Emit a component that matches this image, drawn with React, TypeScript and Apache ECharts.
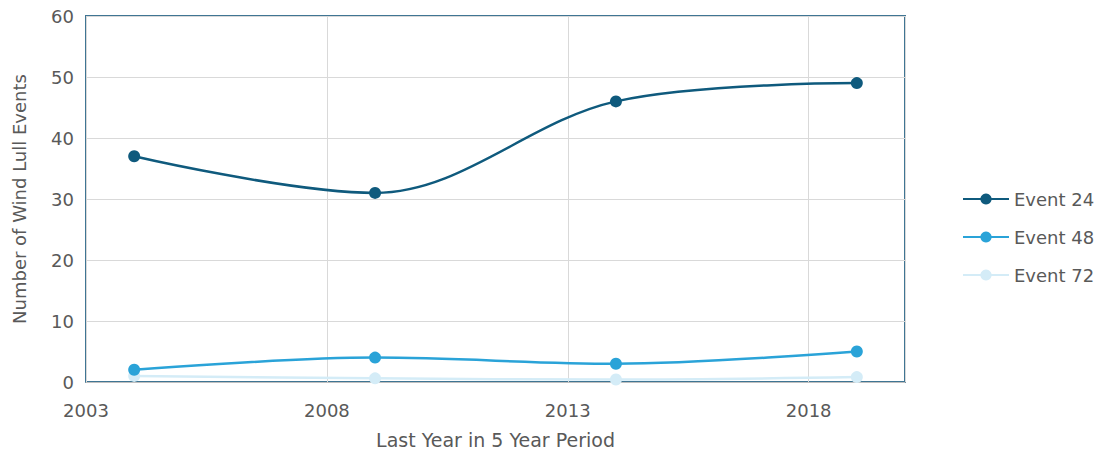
import React, { useEffect, useRef } from "react";
import * as echarts from "echarts";

const years = [2004, 2009, 2014, 2019];
const event24 = [37, 31, 46, 49];
const event48 = [2, 4, 3, 5];
const event72 = [1, 0.6, 0.4, 0.8];
const seriesNames = ["Event 24", "Event 48", "Event 72"];
const colors = ["#0f5a7d", "#2aa3d8", "#d4ecf7"];

export default function App() {
  const ref = useRef<HTMLDivElement>(null);
  useEffect(() => {
    if (!ref.current) return;
    const chart = echarts.init(ref.current, undefined, { renderer: "svg" });
    const font = "DejaVu Sans";
    const dataSets = [event24, event48, event72];
    chart.setOption({
      animation: false,
      textStyle: { fontFamily: font },
      grid: {
        left: 86,
        right: 194,
        top: 16,
        bottom: 71,
        containLabel: false,
        outerBoundsMode: "none",
        show: true,
        borderColor: "#3f7593",
        borderWidth: 2,
        backgroundColor: "transparent",
      },
      legend: {
        orient: "vertical",
        left: 957,
        top: 185,
        itemWidth: 46,
        itemHeight: 14,
        itemGap: 20,
        textStyle: { color: "#595959", fontSize: 18, fontFamily: font },
        data: seriesNames,
      },
      xAxis: {
        type: "value",
        min: 2003,
        max: 2020,
        interval: 5,
        name: "Last Year in 5 Year Period",
        nameLocation: "middle",
        nameGap: 48,
        nameTextStyle: { color: "#595959", fontSize: 19 },
        axisLine: { show: true, lineStyle: { color: "#bfbfbf", width: 1 } },
        axisTick: { show: false },
        axisLabel: {
          color: "#595959",
          fontSize: 18,
          margin: 19,
          showMaxLabel: false,
          formatter: (v: number) => String(v),
        },
        splitLine: { show: true, lineStyle: { color: "#d9d9d9", width: 1 } },
      },
      yAxis: {
        type: "value",
        min: 0,
        max: 60,
        interval: 10,
        name: "Number of Wind Lull Events",
        nameLocation: "middle",
        nameGap: 58,
        nameTextStyle: { color: "#595959", fontSize: 18 },
        axisLine: { show: false },
        axisTick: { show: false },
        axisLabel: { color: "#595959", fontSize: 18, margin: 12 },
        splitLine: { show: true, lineStyle: { color: "#d9d9d9", width: 1 } },
      },
      series: seriesNames.map((name, i) => ({
        name,
        type: "line",
        smooth: 0.35,
        data: years.map((y, j) => [y, dataSets[i][j]]),
        symbol: "circle",
        symbolSize: 12,
        lineStyle: { color: colors[i], width: 2.5 },
        itemStyle: { color: colors[i] },
        z: 3 - i,
      })),
    });
    return () => chart.dispose();
  }, []);
  return (
    <div
      ref={ref}
      style={{ position: "fixed", left: 0, top: 0, width: 1099, height: 453, background: "#fff" }}
    />
  );
}
